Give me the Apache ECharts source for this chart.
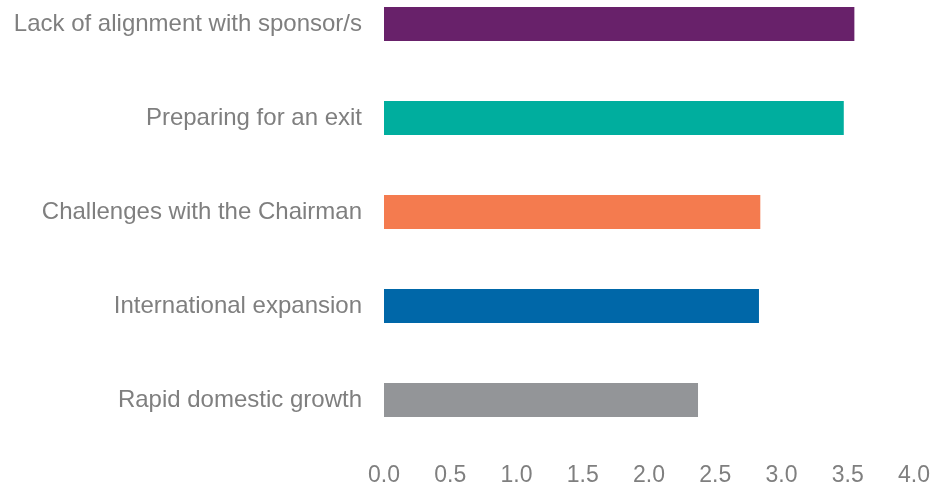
<!DOCTYPE html>
<html>
<head>
<meta charset="utf-8">
<script src="https://cdn.jsdelivr.net/npm/echarts@6/dist/echarts.min.js"></script>
<style>
  html, body { margin: 0; padding: 0; background: #ffffff; overflow: hidden; }
  /* the top category band runs past the upper page edge */
  #chart { width: 936px; height: 510px; margin-top: -23px; }
</style>
</head>
<body>
<div id="chart"></div>
<script>
// Categories listed bottom to top (category axis on y runs upward)
const categories = [
  'Rapid domestic growth',
  'International expansion',
  'Challenges with the Chairman',
  'Preparing for an exit',
  'Lack of alignment with sponsor/s'
];
const scores = [2.37, 2.83, 2.84, 3.47, 3.55];
const barColors = ['#939598', '#0067a8', '#f47b4f', '#00ae9e', '#68216a'];
const xTicks = { min: 0, max: 4, interval: 0.5 };

const chart = echarts.init(document.getElementById('chart'), null, { renderer: 'canvas' });
const textStyle = { color: '#7f7f7f', fontFamily: 'Liberation Sans, Arial, sans-serif' };

chart.setOption({
  animation: false,
  grid: { left: 384, right: 22, top: 0, bottom: 40, containLabel: false },
  xAxis: {
    type: 'value',
    min: xTicks.min,
    max: xTicks.max,
    interval: xTicks.interval,
    axisLine: { show: false },
    axisTick: { show: false },
    splitLine: { show: false },
    axisLabel: Object.assign({ fontSize: 23, margin: 17, formatter: v => v.toFixed(1) }, textStyle)
  },
  yAxis: {
    type: 'category',
    data: categories,
    axisLine: { show: false },
    axisTick: { show: false },
    axisLabel: Object.assign({ fontSize: 24, margin: 22, padding: [4, 0, 0, 0] }, textStyle)
  },
  series: [{
    type: 'bar',
    barWidth: 34,
    data: scores.map((v, i) => ({ value: v, itemStyle: { color: barColors[i] } }))
  }]
});
</script>
</body>
</html>
